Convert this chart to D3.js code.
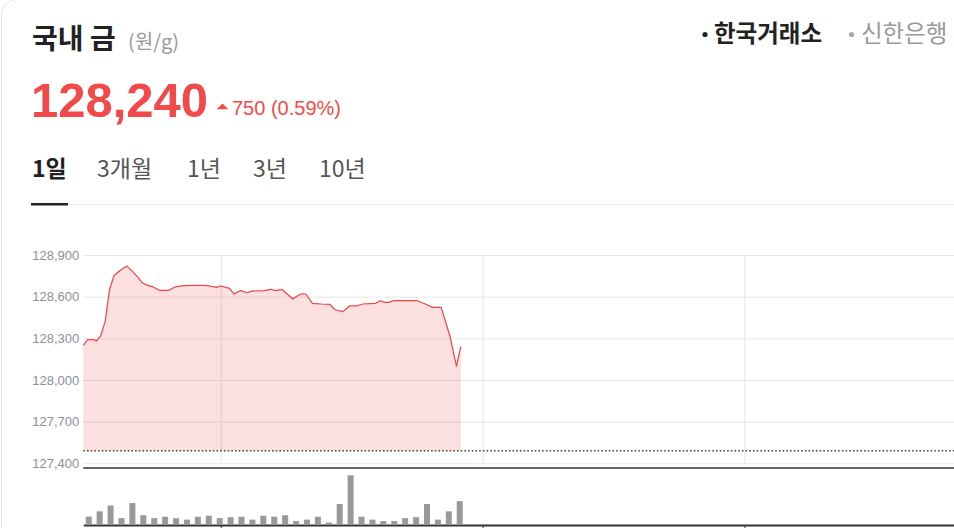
<!DOCTYPE html>
<html><head><meta charset="utf-8">
<script src="https://cdn.jsdelivr.net/npm/d3@7"></script>
<style>body{margin:0;background:#fff;overflow:hidden}svg{display:block}</style>
</head><body><svg id="c" width="954" height="528"></svg>
<script>
// ---- data ----
const minutes = [0,2,5,6,8,10,12,14,17,20,23,25,27,29,32,35,39,42,46,54,58,61,63,67,69,72,75,77,83,86,88,91,96,98,100,102,105,109,113,115,116,119,122,125,128,134,136,138,140,142,153,157,160,164,168,171,173];
const prices  = [128250,128290,128290,128280,128320,128420,128650,128750,128790,128820,128775,128740,128700,128685,128670,128645,128645,128670,128680,128682,128677,128667,128677,128660,128620,128643,128628,128640,128643,128653,128643,128653,128583,128605,128621,128619,128552,128547,128545,128511,128504,128492,128533,128533,128547,128552,128571,128559,128559,128571,128571,128545,128523,128523,128317,128100,128240];
const volumeBuckets = [0,5,10,15,20,25,30,35,40,45,50,55,60,65,70,75,80,85,90,95,100,105,110,115,120,125,130,135,140,145,150,155,160,165,170];
const volumes = [7.5,13,19,6,21.5,9,6,7.5,6,4.5,7.5,8.5,6,7,7.5,4.5,8.5,7.5,9,3,4.5,7.5,1.5,20.5,50,7.5,4.5,3,3,6,7,20.5,4.5,13,23.5];
const yTicks = [127400,127700,128000,128300,128600,128900];
const timeTicks = [63,183,303];
const prevClose = 127490;
const currentPrice = 128240;
const change = 750;
const changePct = "0.59%";
const tabs = ["1일","3개월","1년","3년","10년"];
const tabX = [32,97,187,253,319];
const sources = ["한국거래소","신한은행"];

// ---- drawing ----
const svg = d3.select("#c");
const red = "#f24a4a";
const KR = "'Noto Sans CJK KR','Noto Sans',sans-serif";
const LAT = "'Liberation Sans',Arial,sans-serif";

// card border
svg.append("rect").attr("x",1.5).attr("y",-0.5).attr("width",1000).attr("height",600)
  .attr("rx",15).attr("fill","none").attr("stroke","#e6e6e6");

// header
svg.append("text").attr("x",32).attr("y",49).attr("font-family",KR)
  .attr("font-size",28).attr("font-weight",700).attr("fill","#222").text("국내 금");
svg.append("text").attr("x",128).attr("y",49).attr("font-family",KR)
  .attr("font-size",20).attr("fill","#999").text("(원/g)");

svg.append("text").attr("x",31).attr("y",117).attr("font-family",LAT).attr("font-weight",700)
  .attr("font-size",49).attr("fill",red).text(d3.format(",")(currentPrice));
svg.append("path").attr("d","M216.7,109.3 L228.3,109.3 L222.5,103.5 Z").attr("fill",red);
svg.append("text").attr("x",232).attr("y",115).attr("font-family",LAT).attr("font-size",20)
  .attr("fill",red).text(`${change} (${changePct})`);

// source legend
const srcG = svg.append("g");
srcG.append("circle").attr("cx",705).attr("cy",34.5).attr("r",2.6).attr("fill","#222");
srcG.append("text").attr("x",714).attr("y",41.5).attr("font-family",KR).attr("font-size",23.5)
  .attr("font-weight",700).attr("fill","#222").text(sources[0]);
srcG.append("circle").attr("cx",851.5).attr("cy",34.5).attr("r",2.6).attr("fill","#aaa");
srcG.append("text").attr("x",861).attr("y",41.5).attr("font-family",KR).attr("font-size",23.5)
  .attr("fill","#999").text(sources[1]);

// tabs
svg.selectAll("text.tab").data(tabs).join("text").attr("class","tab")
  .attr("x",(d,i)=>tabX[i]).attr("y",177).attr("font-family",KR).attr("font-size",23)
  .attr("font-weight",(d,i)=>i===0?700:400).attr("fill",(d,i)=>i===0?"#222":"#555").text(d=>d);
svg.append("line").attr("x1",68).attr("x2",954).attr("y1",204.5).attr("y2",204.5).attr("stroke","#ececec");
svg.append("rect").attr("x",31).attr("y",203).attr("width",37).attr("height",2.5).attr("fill","#222");

// scales
const x = d3.scaleLinear().domain([0,399]).range([83.3,954]);
const y = d3.scaleLinear().domain([127400,128900]).range([463.3,255]);
const v = d3.scaleLinear().domain([0,50]).range([524,475.3]);

// grid
const gy = svg.append("g").attr("transform","translate(83.3,0)")
  .call(d3.axisLeft(y).tickValues(yTicks).tickSize(-(954-83.3)).tickFormat(""));
gy.select(".domain").remove();
gy.selectAll("line").attr("stroke","#e6e6e6");
const gx = svg.append("g").attr("transform","translate(0,463.3)")
  .call(d3.axisBottom(x).tickValues(timeTicks).tickSize(-(463.3-255)).tickFormat(""));
gx.select(".domain").remove();
gx.selectAll("line").attr("stroke","#e3e3e3");

// y labels
const ya = svg.append("g").attr("transform","translate(83.3,0)")
  .call(d3.axisLeft(y).tickValues(yTicks).tickSize(0).tickPadding(4).tickFormat(d3.format(",")));
ya.select(".domain").remove();
ya.selectAll("text").attr("font-family",LAT).attr("font-size",13).attr("fill","#8c9099");

// area + line
const pts = minutes.map((m,i)=>({m,p:prices[i]}));
svg.append("path").datum(pts)
  .attr("d",d3.area().x(d=>x(d.m)).y0(y(prevClose)).y1(d=>y(d.p)))
  .attr("fill","#f04848").attr("fill-opacity",0.17);
svg.append("path").datum(pts)
  .attr("d",d3.line().x(d=>x(d.m)).y(d=>y(d.p)))
  .attr("fill","none").attr("stroke","#ee4444").attr("stroke-width",1.2).attr("stroke-linejoin","round");

// previous close dotted line
svg.append("line").attr("x1",83.3).attr("x2",954).attr("y1",y(prevClose)).attr("y2",y(prevClose))
  .attr("stroke","#444").attr("stroke-width",1.6).attr("stroke-dasharray","1.6,2.1");

// volume panel
svg.append("line").attr("x1",83.3).attr("x2",954).attr("y1",468).attr("y2",468)
  .attr("stroke","#333").attr("stroke-width",1.6);
svg.selectAll("rect.vol").data(volumes).join("rect").attr("class","vol")
  .attr("x",(d,i)=>x(volumeBuckets[i]+2.5)-3).attr("width",6)
  .attr("y",d=>v(d)).attr("height",d=>v(0)-v(d)).attr("fill","#999");
const bx = svg.append("g").attr("transform","translate(0,525)")
  .call(d3.axisBottom(x).tickValues(timeTicks).tickSize(6).tickSizeOuter(0).tickFormat(""));
bx.select(".domain").attr("stroke","#333").attr("stroke-width",2);
bx.selectAll("line").attr("stroke","#333");
</script></body></html>
